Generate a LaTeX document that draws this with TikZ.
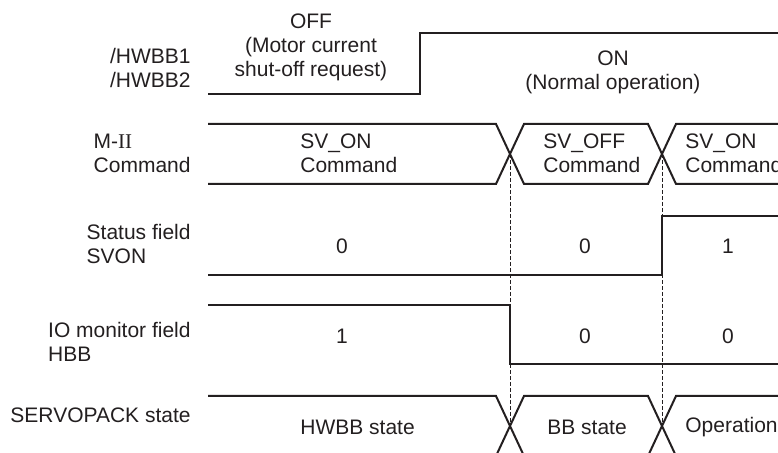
\documentclass[tikz,border=0pt]{standalone}
\usepackage{fontspec}
\setmainfont{Liberation Sans}
\newfontfamily\romnum{Liberation Serif}
\definecolor{Ink}{HTML}{231F20}
\tikzset{
 wave/.style={draw=Ink, line width=1pt, line join=miter},
 guide/.style={draw=Ink, line width=0.5pt, dash pattern=on 2pt off 1pt},
 signame/.style={anchor=east, align=left, inner sep=0pt, text=Ink},
 busname/.style={anchor=west, align=left, inner sep=0pt, text=Ink},
 level/.style={align=center, inner sep=0pt, text=Ink}
}

\begin{document}
\begin{tikzpicture}[x=0.5pt,y=-0.5pt,font=\fontsize{10.5}{12}\selectfont]
\useasboundingbox (0,0) rectangle (778,453);
\clip (0,0) rectangle (778,453);

\node[signame] (hwbb) at (191,68) {/HWBB1\\/HWBB2};
\node[signame] (mii) at (191,153) {M-{\romnum II}\\Command};
\node[signame] (svon) at (191,244) {Status field\\SVON};
\node[signame] (hbb) at (191,342) {IO monitor field\\HBB};
\node[signame] (state) at (191,415) {SERVOPACK state};

\coordinate (cmdA) at (510,154);
\coordinate (cmdB) at (662,154);
\coordinate (stA) at (510,426);
\coordinate (stB) at (662,426);
\draw[guide] (cmdA) -- (stA);
\draw[guide] (cmdB) -- (stB);

\draw[wave] (208,94) -- (420,94) -- (420,33) -- (790,33);
\node[level] (off) at (311,47) {OFF\\(Motor current\\shut-off request)};
\node[level] (on) at (613,72) {ON\\(Normal operation)};

\draw[wave] (208,124) -- (496,124) -- (524,184) -- (648,184) -- (676,124) -- (790,124);
\draw[wave] (208,184) -- (496,184) -- (524,124) -- (648,124) -- (676,184) -- (790,184);
\node[busname] (cmd1) at (300,153) {SV\_ON\\Command};
\node[busname] (cmd2) at (543,153) {SV\_OFF\\Command};
\node[busname] (cmd3) at (685,153) {SV\_ON\\Command};

\draw[wave] (208,275) -- (662,275) -- (662,216) -- (790,216);
\node[level] (svon1) at (342,246) {0};
\node[level] (svon2) at (585,246) {0};
\node[level] (svon3) at (728,246) {1};

\draw[wave] (208,305) -- (510,305) -- (510,364) -- (790,364);
\node[level] (hbb1) at (342,336) {1};
\node[level] (hbb2) at (585,336) {0};
\node[level] (hbb3) at (728,336) {0};

\draw[wave] (208,396) -- (496,396) -- (524,456) -- (648,456) -- (676,396) -- (790,396);
\draw[wave] (208,456) -- (496,456) -- (524,396) -- (648,396) -- (676,456) -- (790,456);
\node[busname] (st1) at (300,427) {HWBB state};
\node[busname] (st2) at (547,427) {BB state};
\node[busname] (st3) at (685,427) {Operation};
\end{tikzpicture}
\end{document}
